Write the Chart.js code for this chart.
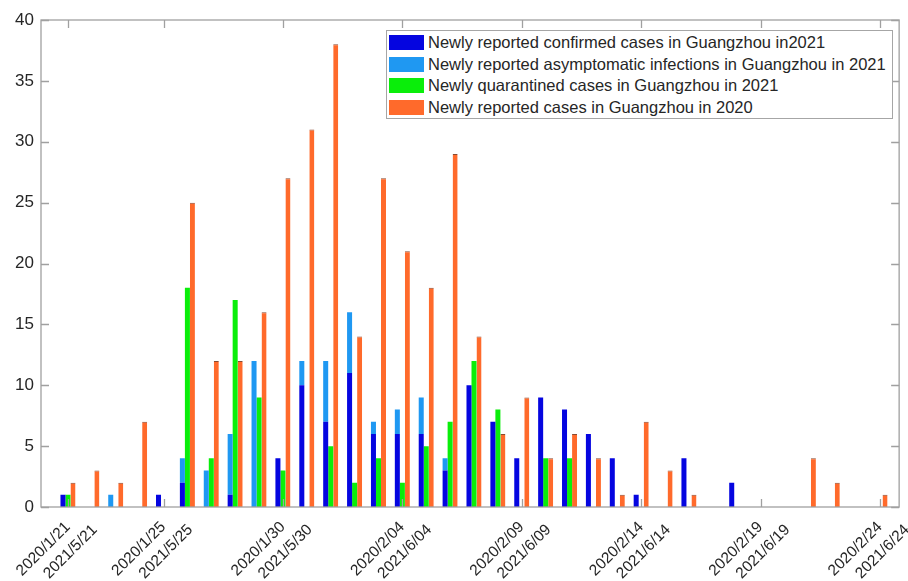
<!DOCTYPE html>
<html>
<head>
<meta charset="utf-8">
<script src="https://cdn.jsdelivr.net/npm/chart.js@4/dist/chart.umd.min.js"></script>
<style>
    body { margin: 0; background: #ffffff; }
    #contenedor { position: relative; width: 908px; height: 581px; }
    #leyenda {
        position: absolute; left: 386px; top: 30px; width: 507px; height: 89px;
        border: 1px solid #a6a6a6; background: #ffffff; box-sizing: border-box;
        font-family: 'Liberation Sans', Arial, sans-serif; font-size: 16.5px; color: #262626;
        padding: 1px 0 0 2px;
    }
    .fila-leyenda { display: flex; align-items: center; height: 21.5px; white-space: nowrap; }
    .muestra { width: 35px; height: 15px; margin-right: 4px; }
</style>
</head>
<body>
<div id="contenedor">
    <canvas id="grafico" width="908" height="581"></canvas>
    <div id="leyenda"></div>
</div>
<script>
// ============================================================
// Casos nuevos en Guangzhou — 2020 frente a 2021
// ============================================================

const fechas2020 = [
    '2020/1/21', '2020/1/22', '2020/1/23', '2020/1/24', '2020/1/25', '2020/1/26', '2020/1/27',
    '2020/1/28', '2020/1/29', '2020/1/30', '2020/1/31', '2020/2/01', '2020/2/02', '2020/2/03',
    '2020/2/04', '2020/2/05', '2020/2/06', '2020/2/07', '2020/2/08', '2020/2/09', '2020/2/10',
    '2020/2/11', '2020/2/12', '2020/2/13', '2020/2/14', '2020/2/15', '2020/2/16', '2020/2/17',
    '2020/2/18', '2020/2/19', '2020/2/20', '2020/2/21', '2020/2/22', '2020/2/23', '2020/2/24'
];
const fechas2021 = [
    '2021/5/21', '2021/5/22', '2021/5/23', '2021/5/24', '2021/5/25', '2021/5/26', '2021/5/27',
    '2021/5/28', '2021/5/29', '2021/5/30', '2021/5/31', '2021/6/01', '2021/6/02', '2021/6/03',
    '2021/6/04', '2021/6/05', '2021/6/06', '2021/6/07', '2021/6/08', '2021/6/09', '2021/6/10',
    '2021/6/11', '2021/6/12', '2021/6/13', '2021/6/14', '2021/6/15', '2021/6/16', '2021/6/17',
    '2021/6/18', '2021/6/19', '2021/6/20', '2021/6/21', '2021/6/22', '2021/6/23', '2021/6/24'
];

// días con etiqueta en el eje x
const indicesEtiquetas = [0, 4, 9, 14, 19, 24, 29, 34];

const confirmados2021 = [1, 0, 0, 0, 1, 2, 0, 1, 0, 4, 10, 7, 11, 6, 6, 6, 3, 10, 7, 4, 9, 8, 6, 4, 1, 0, 4, 0, 2, 0, 0, 0, 0, 0, 0];
// asintomáticos apilados encima de los confirmados
const asintomaticos2021 = [0, 0, 1, 0, 0, 2, 3, 5, 12, 0, 2, 5, 5, 1, 2, 3, 1, 0, 0, 0, 0, 0, 0, 0, 0, 0, 0, 0, 0, 0, 0, 0, 0, 0, 0];
const cuarentena2021 = [1, 0, 0, 0, 0, 18, 4, 17, 9, 3, 0, 5, 2, 4, 2, 5, 7, 12, 8, 0, 4, 4, 0, 0, 0, 0, 0, 0, 0, 0, 0, 0, 0, 0, 0];
const casos2020 = [2, 3, 2, 7, 0, 25, 12, 12, 16, 27, 31, 38, 14, 27, 21, 18, 29, 14, 6, 9, 4, 6, 4, 1, 7, 3, 1, 0, 0, 0, 0, 4, 2, 0, 1];

const ticksY = [0, 5, 10, 15, 20, 25, 30, 35, 40];

const FUENTE = "'Liberation Sans', Arial, sans-serif";
const COLOR_TEXTO = '#262626';
const COLOR_MARCO = '#a0a0a0';

// ── Marco tipo MATLAB con marcas hacia dentro ─────────────────
const marcoMatlab = {
    id: 'marcoMatlab',
    afterDraw(chart) {
        const { ctx, chartArea: a, scales } = chart;
        const largo = 8;
        ctx.save();
        ctx.strokeStyle = COLOR_MARCO;
        ctx.lineWidth = 1.3;
        ctx.strokeRect(a.left, a.top, a.right - a.left, a.bottom - a.top);
        ctx.beginPath();
        scales.y.ticks.forEach(t => {
            const y = Math.round(scales.y.getPixelForValue(t.value)) + 0.5;
            ctx.moveTo(a.left, y); ctx.lineTo(a.left + largo, y);
            ctx.moveTo(a.right, y); ctx.lineTo(a.right - largo, y);
        });
        scales.x.ticks.forEach(t => {
            const x = Math.round(scales.x.getPixelForValue(t.value)) + 0.5;
            ctx.moveTo(x, a.bottom); ctx.lineTo(x, a.bottom - largo);
            ctx.moveTo(x, a.top); ctx.lineTo(x, a.top + largo);
        });
        ctx.stroke();
        ctx.restore();
    }
};

const datasets = [
    { label: 'Newly reported confirmed cases in Guangzhou in2021', data: confirmados2021, backgroundColor: '#0505e0', stack: 'azul' },
    { label: 'Newly reported asymptomatic infections in Guangzhou in 2021', data: asintomaticos2021, backgroundColor: '#1f98f2', stack: 'azul' },
    { label: 'Newly quarantined cases in Guangzhou in 2021', data: cuarentena2021, backgroundColor: '#0aee0a', stack: 'verde' },
    {
        label: 'Newly reported cases in Guangzhou in 2020', data: casos2020, backgroundColor: '#ff6a2b', stack: 'naranja',
        borderColor: '#8a4a30',
        borderWidth: c => (c.raw > 0 ? { top: 1, left: 0, right: 0, bottom: 0 } : 0)
    }
];

new Chart(document.getElementById('grafico'), {
    type: 'bar',
    data: { labels: fechas2020.map((_, i) => i), datasets },
    options: {
        responsive: false,
        devicePixelRatio: 1,
        animation: false,
        categoryPercentage: 0.63,
        barPercentage: 1.0,
        layout: { padding: { top: 20, right: 7, left: 0, bottom: 0 } },
        plugins: { legend: { display: false }, tooltip: { enabled: false } },
        scales: {
            x: {
                type: 'linear', offset: false,
                min: -1.13, max: 34.8,
                afterBuildTicks: s => { s.ticks = indicesEtiquetas.map(v => ({ value: v })); },
                afterFit: s => { s.height = 74; },
                grid: { display: false, drawTicks: false, offset: false },
                border: { display: false },
                ticks: {
                    autoSkip: false, maxRotation: 45, minRotation: 45,
                    // la segunda línea queda más adelantada, como en MATLAB
                    padding: -2, labelOffset: 12,
                    color: COLOR_TEXTO, font: { family: FUENTE, size: 15.5, lineHeight: 1.36 },
                    callback: v => [fechas2020[v] + '    ', fechas2021[v]]
                }
            },
            y: {
                stacked: true, min: 0, max: 40,
                afterBuildTicks: s => { s.ticks = ticksY.map(v => ({ value: v })); },
                afterFit: s => { s.width = 41; },
                grid: { display: false, drawTicks: false },
                border: { display: false },
                ticks: { padding: 7, color: COLOR_TEXTO, font: { family: FUENTE, size: 17 } }
            }
        }
    },
    plugins: [marcoMatlab]
});

// ── Leyenda en HTML ───────────────────────────────────────────
document.getElementById('leyenda').innerHTML = datasets.map(d =>
    `<div class="fila-leyenda"><div class="muestra" style="background:${d.backgroundColor}"></div>${d.label}</div>`
).join('');
</script>
</body>
</html>
